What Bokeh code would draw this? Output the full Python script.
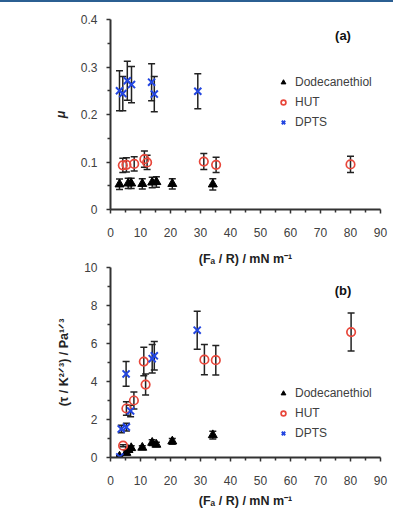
from bokeh.plotting import figure
from bokeh.models import ColumnDataSource, Whisker, Legend, LegendItem, Label, Spacer, FixedTicker, Title
from bokeh.layouts import column
from bokeh.embed import file_html
from bokeh.resources import INLINE

# ---- data: panel (a) friction coefficient ----
a_dod_x = [3.0, 5.9, 6.9, 10.6, 13.9, 15.3, 20.6, 34.1]
a_dod_y = [0.053, 0.055, 0.055, 0.054, 0.057, 0.058, 0.054, 0.053]
a_dod_err = [0.011, 0.011, 0.011, 0.011, 0.011, 0.011, 0.011, 0.012]

a_hut_x = [4.1, 5.3, 7.9, 11.3, 12.2, 31.1, 35.2, 80.0]
a_hut_y = [0.093, 0.094, 0.096, 0.106, 0.099, 0.101, 0.094, 0.095]
a_hut_err = [0.015, 0.015, 0.015, 0.017, 0.015, 0.017, 0.016, 0.017]

a_dpts_x = [3.0, 4.1, 5.6, 7.0, 13.7, 14.6, 29.1]
a_dpts_y = [0.250, 0.244, 0.271, 0.263, 0.268, 0.243, 0.249]
a_dpts_err = [0.042, 0.036, 0.041, 0.038, 0.039, 0.037, 0.037]

# ---- data: panel (b) tau / K^(2/3) ----
b_dod_x = [3.0, 5.3, 6.0, 6.9, 10.6, 13.9, 15.3, 20.6, 34.1]
b_dod_y = [0.05, 0.25, 0.40, 0.50, 0.52, 0.78, 0.68, 0.85, 1.18]
b_dod_err = [0.05, 0.10, 0.12, 0.12, 0.10, 0.15, 0.12, 0.15, 0.20]

b_hut_x = [4.2, 5.3, 7.8, 11.7, 11.1, 31.3, 35.1, 80.2]
b_hut_y = [0.62, 2.58, 3.00, 3.84, 5.05, 5.15, 5.12, 6.60]
b_hut_err = [0.05, 0.35, 0.45, 0.55, 0.75, 0.80, 0.78, 1.00]

b_dpts_x = [3.1, 3.6, 5.3, 5.2, 6.7, 13.9, 14.6, 28.9]
b_dpts_y = [0.03, 1.50, 1.60, 4.40, 2.45, 5.20, 5.35, 6.70]
b_dpts_err = [0.05, 0.20, 0.20, 0.65, 0.30, 0.75, 0.75, 1.00]

x_ticks = [0, 10, 20, 30, 40, 50, 60, 70, 80, 90]
series_names = ["Dodecanethiol", "HUT", "DPTS"]
x_label = "(Fₐ / R) / mN m⁻¹"
ya_label = "μ"
yb_label = "(τ / K²ᐟ³) / Pa¹ᐟ³"

FONT = "Liberation Sans"
GREY = "#404040"
RED = "#e8473b"
BLUE = "#2346e0"


def xtitle(standoff):
    return Title(text=x_label, align="center", offset=6, standoff=standoff,
                 text_font=FONT, text_font_size="12.5px", text_font_style="bold",
                 text_color="#222222")


def make_panel(top, bottom, yr, yticks, yminor, ylabel, tag, tag_y, data, legend_loc):
    p = figure(frame_width=270, frame_height=190, x_range=(0, 90), y_range=yr,
               output_backend="svg", toolbar_location=None,
               min_border_left=110, min_border_right=13,
               min_border_top=top, min_border_bottom=bottom)
    p.outline_line_color = None
    p.xgrid.visible = False
    p.ygrid.visible = False
    for ax in (p.xaxis[0], p.yaxis[0]):
        ax.axis_line_width = 2
        ax.axis_line_color = "#333333"
        ax.major_tick_line_color = "#333333"
        ax.minor_tick_line_color = "#333333"
        ax.major_tick_line_width = 1.5
        ax.minor_tick_line_width = 1.5
        ax.major_tick_out = 4
        ax.major_tick_in = 0
        ax.minor_tick_out = 3
        ax.minor_tick_in = 0
        ax.major_label_text_font = FONT
        ax.major_label_text_font_size = "12px"
        ax.major_label_text_color = GREY
        ax.axis_label_text_font = FONT
        ax.axis_label_text_font_size = "12.5px"
        ax.axis_label_text_font_style = "bold"
        ax.axis_label_text_color = "#222222"
    p.xaxis.ticker = FixedTicker(ticks=x_ticks, minor_ticks=list(range(5, 90, 10)))
    p.yaxis.ticker = FixedTicker(ticks=yticks, minor_ticks=yminor)
    p.xaxis.major_label_standoff = 14
    p.yaxis.axis_label = ylabel
    p.yaxis.major_label_standoff = 9
    p.yaxis.axis_label_standoff = 10

    items = []
    for name, (xs, ys, es) in zip(series_names, data):
        src = ColumnDataSource(dict(x=xs, y=ys,
                                    lo=[y - e for y, e in zip(ys, es)],
                                    hi=[y + e for y, e in zip(ys, es)]))
        w = Whisker(base="x", lower="lo", upper="hi", source=src,
                    line_color="#222222", line_width=1.5)
        for h in (w.upper_head, w.lower_head):
            h.size = 7
            h.line_color = "#222222"
            h.line_width = 1.5
        p.add_layout(w)
    for i, (name, (xs, ys, es)) in enumerate(zip(series_names, data)):
        src = ColumnDataSource(dict(x=xs, y=ys))
        if i == 0:
            r = p.scatter("x", "y", source=src, marker="triangle", size=9,
                          fill_color="black", line_color="black")
        elif i == 1:
            r = p.scatter("x", "y", source=src, marker="circle", size=8.5,
                          fill_color=None, line_color=RED, line_width=1.7)
        else:
            r = p.scatter("x", "y", source=src, marker="x", size=10,
                          line_color=BLUE, line_width=2)
        items.append(LegendItem(label=name, renderers=[r]))
    leg = Legend(items=items, location=legend_loc, border_line_color=None,
                 background_fill_alpha=0, label_text_font=FONT,
                 label_text_font_size="12px", label_text_color=GREY,
                 glyph_width=12, glyph_height=12, spacing=6, padding=4,
                 label_standoff=6, margin=0)
    p.add_layout(leg)
    p.add_layout(Label(x=77.5, y=tag_y, text=tag, text_font=FONT,
                       text_font_size="13px", text_font_style="bold",
                       text_align="center", text_baseline="middle", text_color="#111111"))
    return p


pa = make_panel(17, 34, (0, 0.4), [0, 0.1, 0.2, 0.3, 0.4], [0.05, 0.15, 0.25, 0.35],
                ya_label, "(a)", 0.366,
                [(a_dod_x, a_dod_y, a_dod_err), (a_hut_x, a_hut_y, a_hut_err),
                 (a_dpts_x, a_dpts_y, a_dpts_err)], (167, 80))
pa.yaxis.axis_label_text_font_style = "bold italic"

pb = make_panel(24, 52, (0, 10), [0, 2, 4, 6, 8, 10], [1, 3, 5, 7, 9],
                yb_label, "(b)", 8.8,
                [(b_dod_x, b_dod_y, b_dod_err), (b_hut_x, b_hut_y, b_hut_err),
                 (b_dpts_x, b_dpts_y, b_dpts_err)], (167, 17))
# x-axis title of panel (a) sits in the gap between the panels
pb.add_layout(xtitle(3), "above")
# x-axis title of panel (b)
pb.add_layout(xtitle(9), "below")

top_bar = Spacer(width=393, height=2, styles={"background-color": "#2b5f92"})
layout = column(top_bar, pa, pb, spacing=0)

open("out.html", "w").write(file_html(layout, INLINE))
